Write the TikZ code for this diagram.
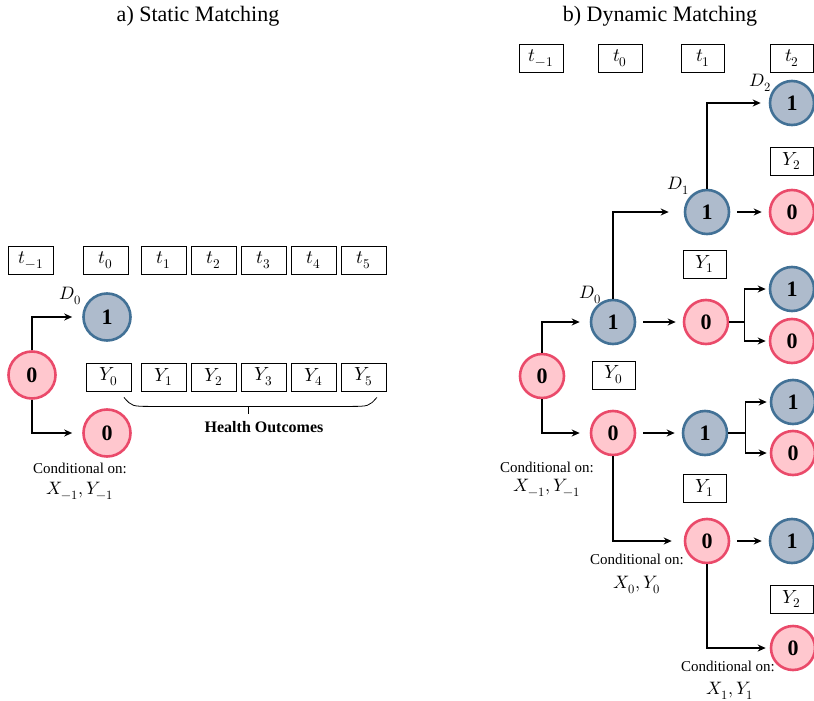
\documentclass[tikz,border=0pt]{standalone}
\usepackage{amsmath}
\usepackage{fontspec}
\usepackage{unicode-math}
\setmainfont{Liberation Serif}
\setmathfont{Latin Modern Math}
\usetikzlibrary{arrows, arrows.meta, calc, positioning}
\definecolor{zerofill}{RGB}{255,199,206}
\definecolor{zeroline}{RGB}{234,74,106}
\definecolor{onefill}{RGB}{174,187,204}
\definecolor{oneline}{RGB}{66,113,150}

\begin{document}
\begin{tikzpicture}[>={Stealth[length=8pt, width=7pt]}, x=1pt, y=-1pt]
    \tikzstyle{zero} = [draw=zeroline, fill=zerofill, line width=2.6pt, circle,
	minimum size=44pt, inner sep=0pt, font=\fontsize{22}{22}\selectfont\bfseries]
    \tikzstyle{one} = [zero, draw=oneline, fill=onefill]
    \tikzstyle{big} = [minimum size=47pt]
    \tikzstyle{tbox} = [draw, line width=0.8pt, minimum width=44pt, minimum height=28pt,
	inner sep=0pt, font=\fontsize{19}{19}\selectfont]
    \tikzstyle{lab} = [inner sep=0pt, font=\fontsize{15}{18}\selectfont]
    \tikzstyle{mlab} = [inner sep=0pt, font=\fontsize{18}{18}\selectfont]
    \tikzstyle{arr} = [->, line width=1.6pt, shorten >=10pt]
    \tikzstyle{straight} = [->, line width=1.6pt, shorten <=7pt, shorten >=7pt]

    \useasboundingbox (0,0) rectangle (814,701);

    % titles
    \node[font=\fontsize{22}{22}\selectfont] (ta) at (198,16) {a) Static Matching};
    \node[font=\fontsize{22}{22}\selectfont] (tb) at (660,16) {b) Dynamic Matching};

    % a) static matching
    \node[tbox, minimum width=45pt] (st-1) at (31,260) {$t_{-1}$};
    \node[tbox, minimum width=45pt] (st0) at (106,260) {$t_0$};
    \node[tbox, minimum width=45pt] (sy0) at (109,377) {$Y_0$};
    \foreach \i in {1,...,5} {
      \node[tbox, minimum width=45pt] (st\i) at (114+50*\i,260) {$t_\i$};
      \node[tbox, minimum width=45pt] (sy\i) at (114+50*\i,377) {$Y_\i$};
    }

    \node[zero, big] (sroot) at (32,375) {0};
    \node[one, big] (sd0) at (107,317) {1};
    \node[zero, big] (sn0) at (107,433) {0};
    \node[mlab] (sdlab) at (70,296) {$D_0$};
    \node[lab] (scond) at (80,468) {Conditional on:};
    \node[mlab] (sxy) at (80,491) {$X_{-1}, Y_{-1}$};

    \draw[arr] (sroot.north) |- (sd0.west);
    \draw[arr] (sroot.south) |- (sn0.west);

    % brace under the outcomes
    \coordinate (bl) at ($(sy0.south east)+(-8,6)$);
    \coordinate (br) at ($(sy5.south east)+(-10,6)$);
    \coordinate (bm) at (248,406);
    \draw[line width=0.8pt] (bl) .. controls ($(bl)+(8,9)$) .. ($(bl)+(28,9)$)
	-- ($(br)+(-28,9)$) .. controls ($(br)+(-8,9)$) .. (br);
    \draw[line width=0.8pt] (bm) -- ++(0,8);
    \node[inner sep=0pt, font=\fontsize{16}{16}\selectfont\bfseries] (health) at (264,427) {Health Outcomes};

    % b) dynamic matching
    \node[tbox] (dt-1) at (541,58) {$t_{-1}$};
    \node[tbox] (dt0) at (620,58) {$t_0$};
    \node[tbox, minimum width=43pt] (dt1) at (703,58) {$t_1$};
    \node[tbox, minimum width=43pt] (dt2) at (792,58) {$t_2$};
    \node[tbox, minimum width=43pt] (dy2a) at (792,161) {$Y_2$};
    \node[tbox, minimum width=43pt] (dy1a) at (705,264) {$Y_1$};
    \node[tbox, minimum width=43pt] (dy0) at (614,375) {$Y_0$};
    \node[tbox, minimum width=43pt] (dy1b) at (705,488) {$Y_1$};
    \node[tbox, minimum width=43pt] (dy2b) at (792,599) {$Y_2$};

    \node[zero] (root) at (542,376) {0};
    \node[one] (d0) at (613,322) {1};
    \node[zero] (n0) at (613,433) {0};
    \node[one] (d1) at (707,212) {1};
    \node[zero] (n1a) at (706,322) {0};
    \node[one] (d1b) at (705,433) {1};
    \node[zero] (n1b) at (707,541) {0};
    \node[one] (d2) at (792,103) {1};
    \node[zero] (n2a) at (792,212) {0};
    \node[one] (d2b) at (792,289) {1};
    \node[zero] (n2b) at (792,341) {0};
    \node[one] (d2c) at (793,402) {1};
    \node[zero] (n2c) at (793,453) {0};
    \node[one] (d2d) at (792,541) {1};
    \node[zero] (n2d) at (793,648) {0};

    \node[mlab] (dlab0) at (590,295) {$D_0$};
    \node[mlab] (dlab1) at (678,186) {$D_1$};
    \node[mlab] (dlab2) at (760,83) {$D_2$};
    \node[lab] (cond1) at (547,467) {Conditional on:};
    \node[mlab] (xy1) at (547,488) {$X_{-1}, Y_{-1}$};
    \node[lab] (cond2) at (637,559) {Conditional on:};
    \node[mlab] (xy2) at (637,585) {$X_0, Y_0$};
    \node[lab] (cond3) at (728,666) {Conditional on:};
    \node[mlab] (xy3) at (730,691) {$X_1, Y_1$};

    \draw[arr] (root.north) |- (d0.west);
    \draw[arr] (root.south) |- (n0.west);
    \draw[arr, shorten >=15pt] (d0.north) |- (d1.west);
    \draw[arr, shorten >=8pt] (d1.north) |- (d2.west);
    \draw[arr, shorten >=12pt] (n0.south) |- (n1b.west);
    \draw[arr, shorten >=4pt] (n1b.south) |- (n2d.west);

    \draw[straight] (d1) -- (n2a);
    \draw[straight] (d0) -- (n1a);
    \draw[straight] (n0) -- (d1b);
    \draw[straight] (n1b) -- (d2d);

    % forks
    \coordinate (fa) at ($(n1a.east)+(15,0)$);
    \coordinate (fb) at ($(d1b.east)+(17,0)$);
    \draw[line width=1.6pt] (n1a.east) -- (fa);
    \draw[arr, shorten >=3pt] (fa) |- (d2b.west);
    \draw[arr, shorten >=3pt] (fa) |- (n2b.west);
    \draw[line width=1.6pt] (d1b.east) -- (fb);
    \draw[arr, shorten >=3pt] (fb) |- (d2c.west);
    \draw[arr, shorten >=3pt] (fb) |- (n2c.west);
\end{tikzpicture}
\end{document}
